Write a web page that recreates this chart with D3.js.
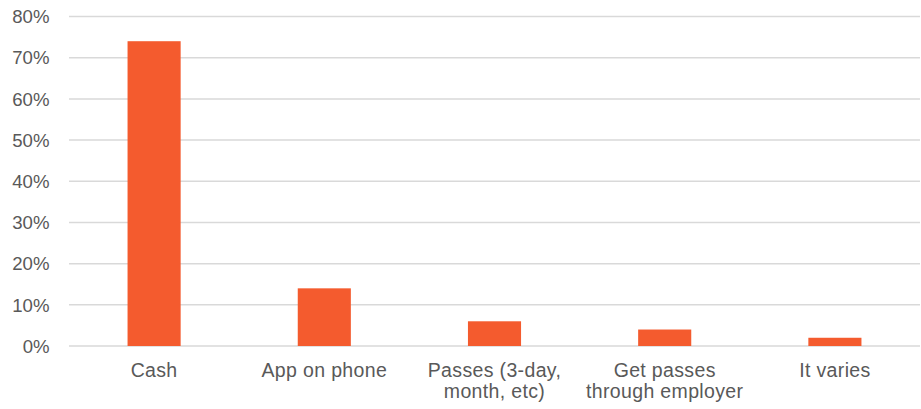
<!DOCTYPE html>
<html>
<head>
<meta charset="utf-8">
<script src="https://cdn.jsdelivr.net/npm/d3@7"></script>
<style>
  html, body { margin: 0; padding: 0; background: #fff; }
  svg { display: block; }
  text { font-family: "Liberation Sans", Arial, Helvetica, sans-serif; fill: #595959; }
</style>
</head>
<body>
<svg id="chart" width="921" height="409"></svg>
<script>
const categories = [["Cash"], ["App on phone"], ["Passes (3-day,", "month, etc)"], ["Get passes", "through employer"], ["It varies"]];
const values = [74, 14, 6, 4, 2];
const yTicks = [0, 10, 20, 30, 40, 50, 60, 70, 80];

(function() {
const svg = d3.select("#chart");
const mLeft = 69, mRight = 920, mTop = 16.5, mBottom = 346;

const x = d3.scaleBand().domain(d3.range(categories.length)).range([mLeft, mRight]).padding(0);
const y = d3.scaleLinear().domain([0, 80]).range([mBottom, mTop]);

// gridlines
svg.append("g").selectAll("line").data(yTicks).join("line")
  .attr("x1", mLeft).attr("x2", mRight)
  .attr("y1", d => y(d)).attr("y2", d => y(d))
  .attr("stroke", "#d9d9d9").attr("stroke-width", 1.5);

// y labels
svg.append("g").selectAll("text").data(yTicks).join("text")
  .attr("x", 49.5).attr("y", d => y(d)).attr("dy", "0.36em")
  .attr("text-anchor", "end").attr("font-size", 18.6)
  .text(d => d + "%");

// bars
const bw = x.bandwidth() * 0.312;
svg.append("g").selectAll("rect").data(values).join("rect")
  .attr("x", (d, i) => x(i) + x.bandwidth() / 2 - bw / 2)
  .attr("width", bw)
  .attr("y", d => y(d))
  .attr("height", d => y(0) - y(d))
  .attr("fill", "#F45B2E");

// category labels
const lab = svg.append("g").selectAll("text").data(categories).join("text")
  .attr("text-anchor", "middle").attr("font-size", 19.5)
  .attr("letter-spacing", 0.35)
  .attr("x", (d, i) => x(i) + x.bandwidth() / 2)
  .attr("y", 377.3);
lab.selectAll("tspan").data(d => d).join("tspan")
  .attr("x", function() { return d3.select(this.parentNode).attr("x"); })
  .attr("dy", (d, i) => i === 0 ? 0 : 20.5)
  .text(d => d);
})();
</script>
</body>
</html>
